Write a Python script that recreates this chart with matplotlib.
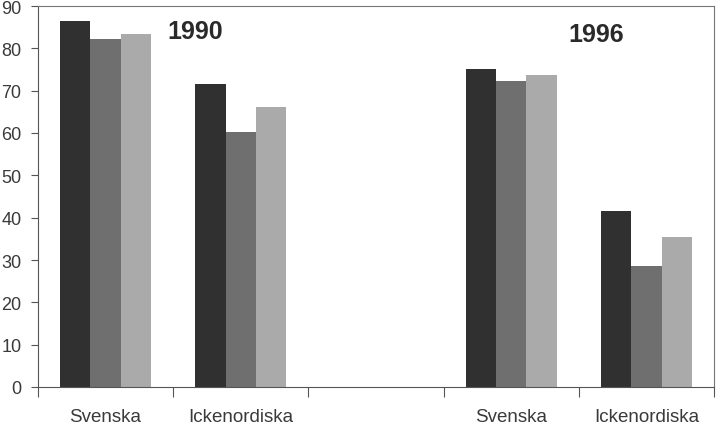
import matplotlib
matplotlib.use("Agg")
import matplotlib.pyplot as plt
import numpy as np

# Category slots along the x axis (the middle slot is an empty spacer)
categories = ["Svenska", "Ickenordiska", "", "Svenska", "Ickenordiska"]
years = ["1990", "1996"]

# Three series per category group
series_a = [86.5, 71.6, np.nan, 75.1, 41.6]
series_b = [82.1, 60.2, np.nan, 72.4, 28.7]
series_c = [83.5, 66.2, np.nan, 73.7, 35.4]

yticks = [0, 10, 20, 30, 40, 50, 60, 70, 80, 90]

plt.rcParams["font.family"] = ["Liberation Sans", "DejaVu Sans"]

fig = plt.figure(figsize=(7.19, 4.27), dpi=100)
ax = fig.add_axes([38 / 719, 1 - 388 / 427, (714 - 38) / 719, (388 - 7) / 427])

x = np.arange(len(categories))
w = 0.225
colors = ["#303030", "#6f6f6f", "#aaaaaa"]
for i, (vals, c) in enumerate(zip([series_a, series_b, series_c], colors)):
    ax.bar(x + (i - 1) * w, vals, width=w, color=c, edgecolor="none", zorder=2)

ax.set_xlim(-0.5, len(categories) - 0.5)
ax.set_ylim(0, 90)
ax.set_yticks(yticks)
ax.set_yticklabels([str(t) for t in yticks], fontsize=13, color="#3a3a3a")

# Ticks on slot boundaries, labels centred in each slot
ax.set_xticks(np.arange(len(categories) + 1) - 0.5)
ax.set_xticklabels([])
ax.set_xticks(x, minor=True)
ax.set_xticklabels(categories, minor=True, fontsize=13.5, color="#3a3a3a")
ax.tick_params(axis="x", which="minor", length=0, pad=15)
ax.tick_params(axis="x", which="major", direction="out", length=7, width=0.8, color="#555555")
ax.tick_params(axis="y", direction="out", length=5, width=0.8, color="#555555", pad=7)

for side in ["left", "bottom", "top", "right"]:
    ax.spines[side].set_color("#777777")
    ax.spines[side].set_linewidth(0.8)
ax.spines["left"].set_color("#555555")
ax.spines["bottom"].set_color("#555555")

ax.text(0.66, 84.1, years[0], fontsize=18, fontweight="bold", color="#2a2a2a",
        ha="center", va="center")
ax.text(3.63, 83.4, years[1], fontsize=18, fontweight="bold", color="#2a2a2a",
        ha="center", va="center")

fig.savefig("out.png", dpi=100)
